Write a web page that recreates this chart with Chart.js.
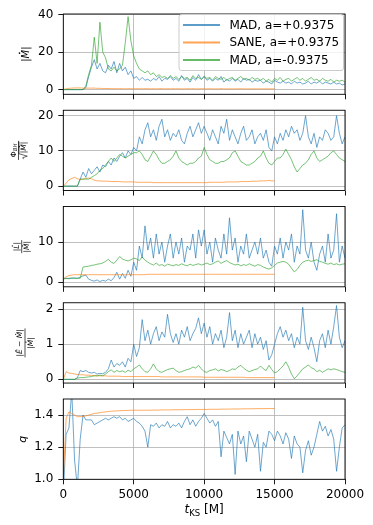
<!DOCTYPE html>
<html lang="en">
<head>
<meta charset="UTF-8">
<title>Accretion diagnostics vs time</title>
<script src="https://cdn.jsdelivr.net/npm/chart.js"></script>
<style>
  html, body { margin: 0; padding: 0; background: #fff; }
  #wrap { position: relative; width: 373px; height: 525px; overflow: hidden; }
  #wrap canvas { position: absolute; left: 0; }
</style>
</head>
<body>
<div id="wrap"></div>
<script>
// sample times in M (one sample every 200 M)
const tKS = Array.from({length: 101}, (_, i) => i * 200);
const seriesNames = ['MAD, a=+0.9375', 'SANE, a=+0.9375', 'MAD, a=-0.9375'];
const xTicks = [0, 5000, 10000, 15000, 20000];

// |Mdot|
const mdotMadP = [0,0,0,0,0,0,0,0,1,7,
  12,16,11,14,10,9,13,11,15,9,
  14,10,12,8,10,6,7,5,6.5,5,
  5.5,4.5,6,5,7,4.5,6,5.5,7,5,
  6,4.5,7.5,5,6,4,6.5,5,8,5.5,
  7,5,6,4.5,6,5,7,4,5.5,4.5,
  6,4.5,5.5,4,6,5,5.5,4,5,4.5,
  5,3.5,4.5,4,3,5,4,3.5,4.5,3.5,
  4,3,4.5,3.5,4,3,3.5,4.5,3,4,
  3.5,4.5,3,4,3.5,3,4,3,3.5,2.5,3];
const mdotSane = [0,0.4,0.7,0.8,0.9,0.9,0.9,0.8,0.8,0.8,
  0.8,0.8,0.7,0.7,0.6,0.6,0.6,0.5,0.5,0.5,
  0.5,0.5,0.4,0.5,0.5,0.4,0.5,0.5,0.4,0.5,
  0.5,0.4,0.5,0.4,0.5,0.5,0.4,0.5,0.4,0.5,
  0.4,0.5,0.4,0.4,0.5,0.4,0.5,0.4,0.4,0.5,
  0.4,0.4,0.5,0.4,0.4,0.4,0.5,0.4,0.4,0.4,
  0.4,0.4,0.4,0.5,0.4,0.4,0.4,0.4,0.4,0.4,
  0.4,0.4,0.4,0.4,0.4,0.4];
const mdotMadM = [0,0,0,0,0,0,0,0,2,8,
  13,28,14,36,20,17,11,10,12,10,
  11,13,25,39,26,18,14,11,10,9,
  10,8,9,7,8,6.5,7,6,7.5,6,
  7,5.5,7,6,6.5,5,7.5,6,6.5,5.5,
  7,6,6.5,5,7,6,5.5,6.5,5,6,
  6.5,5,6,7,5.5,6,5,6.5,5.5,6,
  5,6,4.5,5.5,4,6,5,6.5,4.5,5.5,
  6,4.5,5.5,6.5,5,6,4.5,5.5,6.5,5,
  5.5,4.5,6,5,4.5,5.5,4,5,4.5,5,4];

// Phi_BH / sqrt|Mdot|
const phiMadP = [0,0,0,0,0,0,2,4,2.5,5,
  3.5,4.5,5.5,4,6,5.5,7,6,8,7,
  8.5,9.5,8,10,9,11,10,14,12,16,
  18,14,16,13,17,19,14,16,13,15,
  14,16,13,12,15,17,14,16,18,15,
  17,15,13,16,14,12,17,15,19,13,
  16,14,12,15,17,13,14,16,12,14,
  15,13,16,11,10,14,12,15,13,16,
  14,17,15,16,13,15,20,14,12,15,
  11,14,13,16,15,13,14,20,15,12,14];
const phiSane = [0,0.8,1.8,2.2,2.5,2.1,1.9,2.0,2.2,2.3,
  2.1,1.7,1.5,1.5,1.4,1.4,1.4,1.3,1.3,1.3,
  1.3,1.2,1.2,1.2,1.2,1.2,1.1,1.1,1.1,1.1,
  1.1,1.1,1.0,1.0,1.0,1.0,1.0,1.0,1.0,1.0,
  1.0,1.0,1.0,1.0,1.0,1.0,1.0,1.0,1.0,1.0,
  1.0,1.0,1.1,1.1,1.1,1.1,1.1,1.1,1.2,1.2,
  1.2,1.2,1.2,1.3,1.3,1.3,1.3,1.4,1.4,1.4,
  1.5,1.5,1.5,1.6,1.5,1.5];
const phiMadM = [0,0,0,0,0,0,2,2,2,2,
  2.5,3,3.5,4.5,5,6,7,8,7,8,
  9,8.5,8,8.5,9,9.5,9.5,10,9,7.5,
  7,8.5,10,9,7.5,6.5,6.5,7,7.5,8.5,
  10,8,7,6.5,6,6.5,6.5,7,8,8.5,
  11,9,7.5,7,6.5,6.5,7,7,7.5,8,
  9.5,10,8.5,7,6.5,6,6,6.5,7,8,
  8.5,10,8,6.5,6,7,8,8,9,10.5,
  9,7.5,5.5,4,5,6,6.5,7.5,9,10,
  8,7,7.5,8,8.5,9.5,10,9,8,7.5,7];

// |Ldot| / |Mdot|
const ldotMadP = [1,1,0.9,1,1.1,1,1.3,1.6,1.8,0.8,
  0.5,0.3,0.6,0.2,0.5,0.3,0.8,0.4,1.2,2.5,
  0.8,2.2,1,3,1.5,5,3,9,6,14,
  8,11,6,12,7,10,5,9,12,6,
  10,7,11,5,9,8,12,6,13,9,
  13,7,10,5,11,8,6,12,7,16,
  8,11,5,9,7,12,6,8,10,7,
  11,6,8,5,4,9,7,11,6,10,
  8,12,5,9,7,18,8,6,10,5,
  3,7,9,5,12,6,8,17,5,9,6];
const ldotSane = [0.8,1.4,1.7,1.8,1.9,1.9,1.9,1.9,1.9,1.9,
  1.9,1.9,1.9,1.9,1.9,1.9,1.9,1.9,1.9,1.9,
  1.9,1.9,1.9,1.9,1.9,1.9,1.9,1.9,1.9,1.9,
  2.0,2.0,2.0,2.0,2.0,2.0,2.0,2.0,2.0,2.0,
  2.0,2.0,2.0,2.0,2.0,2.0,2.0,2.0,2.0,2.0,
  2.0,2.0,2.0,2.0,2.0,2.0,2.0,2.0,2.0,2.0,
  2.0,2.0,2.0,2.0,2.0,2.0,2.0,2.0,2.0,2.0,
  2.0,2.0,2.0,2.0,2.0,2.0];
const ldotMadM = [0.8,1,1,1.1,1,1,1,3.8,3.9,4,
  4.2,4.3,4.5,4.6,4.8,5.2,5.7,5,4.7,5.5,
  6.4,5.8,5.5,5.3,5.6,6,5.8,5.4,6.3,5.5,
  5,4.6,4.3,4.8,4.2,4.4,4,4.5,4.3,4.1,
  4.4,4.2,4.6,4.3,4.1,4.5,4.2,4.4,4.6,4.3,
  4.5,4.8,4.4,4.6,5,5.3,4.7,5.1,5.4,4.9,
  4.6,4.3,4.5,4.1,4.4,4.2,4.6,4.3,4,4.4,
  4.2,3.8,3.5,3.3,3.6,4.2,4.8,5,5.2,5,
  4.5,3.5,2.6,3.2,4.2,5,5.3,5.5,5.2,5.4,
  5.6,5.2,5,4.7,4.5,4.8,4.4,4.6,4.3,4.5,4.6];

// |Edot - Mdot| / |Mdot|
const edotMadP = [0,0,0,0,0,0.05,0.25,0.22,0.25,0.2,
  0.18,0.2,0.15,0.17,0.16,0.2,0.3,0.55,0.35,0.45,
  0.4,0.5,0.35,0.6,0.5,1.0,0.65,0.9,1.7,1.1,
  1.4,1.0,1.3,1.5,1.1,1.35,1.2,1.85,1.3,1.05,
  1.3,1.0,1.4,1.2,1.5,1.1,1.3,1.45,1.75,1.3,
  1.6,1.2,1.5,1.0,1.3,1.1,1.4,0.9,1.2,1.9,
  1.1,1.4,0.9,1.3,1.0,1.2,1.4,0.9,1.3,1.0,
  1.2,0.85,1.1,0.55,0.7,1.0,1.3,1.5,1.2,1.4,
  1.1,1.3,0.9,1.2,1.0,2.05,1.1,0.85,1.2,0.9,
  0.5,1.1,1.3,0.9,1.4,1.0,1.5,2.1,1.2,0.9,1.1];
const edotSane = [0,0.22,0.18,0.17,0.15,0.14,0.13,0.13,0.12,0.12,
  0.11,0.11,0.1,0.1,0.1,0.1,0.09,0.09,0.09,0.09,
  0.09,0.08,0.08,0.08,0.08,0.08,0.08,0.08,0.08,0.08,
  0.08,0.08,0.08,0.08,0.08,0.07,0.07,0.07,0.07,0.07,
  0.07,0.07,0.07,0.07,0.07,0.07,0.07,0.07,0.07,0.07,
  0.06,0.06,0.06,0.06,0.06,0.06,0.06,0.06,0.06,0.06,
  0.06,0.06,0.06,0.06,0.06,0.05,0.05,0.05,0.05,0.05,
  0.05,0.05,0.05,0.05,0.05,0.05];
const edotMadM = [0,0,0,0,0,0.03,0.05,0.05,0.06,0.07,
  0.08,0.1,0.1,0.12,0.1,0.15,0.22,0.27,0.2,0.25,
  0.22,0.24,0.2,0.26,0.22,0.3,0.35,0.41,0.3,0.22,
  0.2,0.3,0.44,0.3,0.22,0.2,0.24,0.28,0.3,0.32,
  0.25,0.2,0.22,0.25,0.28,0.3,0.35,0.32,0.4,0.3,
  0.22,0.2,0.25,0.27,0.3,0.24,0.28,0.26,0.22,0.25,
  0.3,0.28,0.35,0.4,0.32,0.26,0.22,0.25,0.28,0.3,
  0.38,0.3,0.25,0.4,0.28,0.18,0.22,0.3,0.38,0.5,
  0.35,0.15,0.02,0.1,0.2,0.3,0.35,0.41,0.33,0.3,
  0.22,0.26,0.2,0.25,0.3,0.27,0.3,0.28,0.25,0.22,0.2];

// q
const qMadP = [0.9,1.28,1.32,1.55,1.12,0.95,1.25,1.4,1.37,1.37,
  1.37,1.34,1.35,1.36,1.37,1.38,1.37,1.38,1.39,1.38,
  1.39,1.37,1.38,1.36,1.37,1.38,1.36,1.35,1.33,1.3,
  1.2,1.34,1.33,1.35,1.32,1.34,1.33,1.36,1.32,1.34,
  1.33,1.35,1.32,1.36,1.39,1.34,1.37,1.33,1.36,1.38,
  1.41,1.38,1.35,1.37,1.33,1.36,1.14,1.3,1.26,1.22,
  1.28,1.03,1.3,1.22,1.27,1.11,1.3,1.25,1.2,1.28,
  1.05,1.23,1.2,1.3,1.28,1.24,1.3,1.27,1.22,1.29,
  1.25,1.13,1.27,1.22,1.2,1.04,1.18,1.24,1.15,1.2,
  1.28,1.36,1.3,1.33,1.27,1.31,1.25,1.05,1.2,1.32,1.34];
const qSane = [1.0,1.38,1.42,1.41,1.40,1.39,1.39,1.39,1.395,1.40,
  1.405,1.41,1.412,1.415,1.418,1.42,1.422,1.424,1.425,1.426,
  1.427,1.428,1.428,1.429,1.43,1.43,1.43,1.43,1.43,1.43,
  1.43,1.43,1.431,1.431,1.431,1.432,1.432,1.432,1.432,1.433,
  1.433,1.433,1.433,1.434,1.434,1.434,1.434,1.435,1.435,1.435,
  1.435,1.435,1.436,1.436,1.436,1.436,1.437,1.437,1.437,1.437,
  1.438,1.438,1.438,1.438,1.439,1.439,1.439,1.439,1.44,1.44,
  1.44,1.44,1.44,1.441,1.441,1.441];

const yTicksMdot = [0, 20, 40];
const yTicksPhi = [0, 10, 20];
const yTicksL = [0, 10];
const yTicksE = [0, 1, 2];
const yTicksQ = [1.0, 1.2, 1.4];

const colors = ['rgba(31,119,180,0.72)', 'rgba(255,127,14,0.72)', 'rgba(44,160,44,0.72)'];

Chart.defaults.font.family = 'DejaVu Sans';
Chart.defaults.font.size = 12;
Chart.defaults.color = '#000';

const up = s => s + 'px "DejaVu Sans"';
const it = s => 'italic ' + s + 'px "DejaVu Sans"';

function segWidth(ctx, segs) {
  let w = 0;
  segs.forEach(s => { ctx.font = s.f; w += ctx.measureText(s.t).width; });
  return w;
}

function drawSegs(ctx, segs, x, y) {
  segs.forEach(s => {
    ctx.font = s.f;
    const w = ctx.measureText(s.t).width;
    ctx.fillText(s.t, x, y + (s.dy || 0));
    if (s.dot) {
      // dot accent (time derivative)
      const size = parseFloat(s.f.match(/([\d.]+)px/)[1]);
      ctx.beginPath();
      ctx.arc(x + w * 0.5 + size * 0.1, y - size * 0.9, size * 0.08, 0, Math.PI * 2);
      ctx.fill();
    }
    x += w;
  });
  return x;
}

function rotated(ctx, cx, cy, fn) {
  ctx.save();
  ctx.translate(cx, cy);
  ctx.rotate(-Math.PI / 2);
  ctx.fillStyle = '#000';
  ctx.strokeStyle = '#000';
  ctx.textAlign = 'left';
  ctx.textBaseline = 'alphabetic';
  fn(ctx);
  ctx.restore();
}

function singleLabel(segs, cx, base) {
  return (ctx, cy) => rotated(ctx, cx, cy, c => {
    const w = segWidth(c, segs);
    drawSegs(c, segs, -w / 2, base);
  });
}

function fracLabel(num, den, cx, s, sqrt) {
  return (ctx, cy) => rotated(ctx, cx, cy, c => {
    const wn = segWidth(c, num);
    const rw = sqrt ? s * 0.8 : 0;
    const wd = segWidth(c, den) + rw;
    const w = Math.max(wn, wd) + 1.5;
    c.lineWidth = 0.7;
    c.beginPath(); c.moveTo(-w / 2, 0); c.lineTo(w / 2, 0); c.stroke();
    drawSegs(c, num, -wn / 2, -s * 0.35);
    const b = s * 1.02;
    let x = -wd / 2;
    if (sqrt) {
      c.lineWidth = 0.6;
      c.beginPath();
      c.moveTo(x, b - s * 0.35);
      c.lineTo(x + rw * 0.25, b - s * 0.45);
      c.lineTo(x + rw * 0.5, b + s * 0.15);
      c.lineTo(x + rw * 0.9, b - s * 0.95);
      c.lineTo(wd / 2, b - s * 0.95);
      c.stroke();
      x += rw;
    }
    drawSegs(c, den, x, b);
  });
}

const fs = 7.5;
const absMdot = [{t: '|', f: up(fs)}, {t: 'M', f: it(fs), dot: true}, {t: '|', f: up(fs)}];

const panels = [
  {series: [mdotMadP, mdotSane, mdotMadM], yMin: -2.5, yMax: 40.4, yTicks: yTicksMdot, legend: true,
   label: singleLabel([{t: '|', f: up(10)}, {t: 'M', f: it(10), dot: true}, {t: '|', f: up(10)}], 25, 3.5)},
  {series: [phiMadP, phiSane, phiMadM], yMin: -1.25, yMax: 21.55, yTicks: yTicksPhi,
   label: fracLabel([{t: 'Φ', f: up(fs)}, {t: 'BH', f: it(5.3), dy: 1.6}], absMdot, 18.5, fs, true)},
  {series: [ldotMadP, ldotSane, ldotMadM], yMin: -1.1, yMax: 18.8, yTicks: yTicksL,
   label: fracLabel([{t: '|', f: up(fs)}, {t: 'L', f: it(fs), dot: true}, {t: '|', f: up(fs)}], absMdot, 21.7, fs, false)},
  {series: [edotMadP, edotSane, edotMadM], yMin: -0.105, yMax: 2.18, yTicks: yTicksE,
   label: fracLabel([{t: '|', f: up(fs)}, {t: 'E', f: it(fs), dot: true}, {t: ' − ', f: up(fs)},
                     {t: 'M', f: it(fs), dot: true}, {t: '|', f: up(fs)}], absMdot, 25, fs, false)},
  {series: [qMadP, qSane], yMin: 1.0, yMax: 1.5, yTicks: yTicksQ, xLabels: true,
   label: singleLabel([{t: 'q', f: it(11)}], 24, 2)}
];

const panelTops = [14, 110.25, 206.5, 302.75, 399];
const panelH = 80.3;

function drawLegend(ctx) {
  ctx.save();
  ctx.fillStyle = 'rgba(255,255,255,0.8)';
  ctx.strokeStyle = '#cccccc';
  ctx.lineWidth = 1;
  ctx.beginPath();
  ctx.roundRect(179, 14.5, 164.5, 56, 2.5);
  ctx.fill();
  ctx.stroke();
  const rows = [25, 42.5, 60];
  ctx.font = up(12);
  ctx.textAlign = 'left';
  ctx.textBaseline = 'middle';
  seriesNames.forEach((name, k) => {
    ctx.strokeStyle = colors[k];
    ctx.lineWidth = 1.8;
    ctx.beginPath(); ctx.moveTo(183, rows[k]); ctx.lineTo(220, rows[k]); ctx.stroke();
    ctx.fillStyle = '#000';
    ctx.fillText(name, 229.5, rows[k] + 0.5);
  });
  ctx.restore();
}

function drawXTitle(ctx, area) {
  ctx.save();
  ctx.fillStyle = '#000';
  ctx.textAlign = 'left';
  ctx.textBaseline = 'alphabetic';
  const segs = [{t: 't', f: it(12)}, {t: 'KS', f: up(8.5), dy: 2.5}, {t: ' [M]', f: up(12)}];
  const w = segWidth(ctx, segs);
  drawSegs(ctx, segs, (area.left + area.right) / 2 - w / 2, area.bottom + 34);
  ctx.restore();
}

const deco = {
  id: 'deco',
  afterDatasetsDraw(chart) {
    const a = chart.chartArea, ctx = chart.ctx;
    ctx.save();
    ctx.strokeStyle = '#000';
    ctx.lineWidth = 0.9;
    ctx.strokeRect(a.left, a.top, a.right - a.left, a.bottom - a.top);
    ctx.restore();
  },
  afterDraw(chart, args, opts) {
    const a = chart.chartArea, ctx = chart.ctx;
    opts.label(ctx, (a.top + a.bottom) / 2);
    if (opts.legend) drawLegend(ctx);
    if (opts.xTitle) drawXTitle(ctx, a);
  }
};

const wrap = document.getElementById('wrap');
panels.forEach((p, k) => {
  const top = panelTops[k], bot = top + panelH;
  const last = k === panels.length - 1;
  const cTop = Math.floor(top - 14);
  const cH = last ? 525 - cTop : Math.ceil(bot + 14) - cTop;
  const xH = last ? 45 : 6;
  const canvas = document.createElement('canvas');
  canvas.width = 373;
  canvas.height = cH;
  canvas.style.top = cTop + 'px';
  wrap.appendChild(canvas);

  const datasets = p.series.map((ys, j) => ({
    label: seriesNames[j],
    data: ys.map((v, i) => ({x: tKS[i], y: v})),
    borderColor: colors[j],
    borderWidth: 0.9,
    pointRadius: 0,
    tension: 0,
    fill: false,
    order: 3 - j
  }));

  new Chart(canvas, {
    type: 'line',
    data: {datasets},
    options: {
      responsive: false,
      animation: false,
      events: [],
      layout: {padding: {left: 0, right: 28, top: top - cTop, bottom: cTop + cH - bot - xH}},
      plugins: {
        legend: {display: false},
        tooltip: {enabled: false},
        deco: {label: p.label, legend: !!p.legend, xTitle: !!p.xLabels}
      },
      scales: {
        x: {
          type: 'linear',
          min: 0, max: 20000,
          afterBuildTicks: s => { s.ticks = xTicks.map(v => ({value: v})); },
          afterFit: s => { s.height = xH; },
          grid: {color: '#b0b0b0', lineWidth: 0.8, tickColor: '#000', tickLength: 5, tickWidth: 0.9},
          border: {display: false},
          ticks: {display: !!p.xLabels, autoSkip: false, maxRotation: 0, padding: 3,
                  font: {size: 12}, callback: v => String(v)}
        },
        y: {
          min: p.yMin, max: p.yMax,
          afterBuildTicks: s => { s.ticks = p.yTicks.map(v => ({value: v})); },
          afterFit: s => { s.width = 63.3; },
          grid: {color: '#b0b0b0', lineWidth: 0.8, tickColor: '#000', tickLength: 5, tickWidth: 0.9},
          border: {display: false},
          ticks: {padding: 5, font: {size: 12},
                  callback: v => last ? v.toFixed(1) : String(v)}
        }
      }
    },
    plugins: [deco]
  });
});
</script>
</body>
</html>
